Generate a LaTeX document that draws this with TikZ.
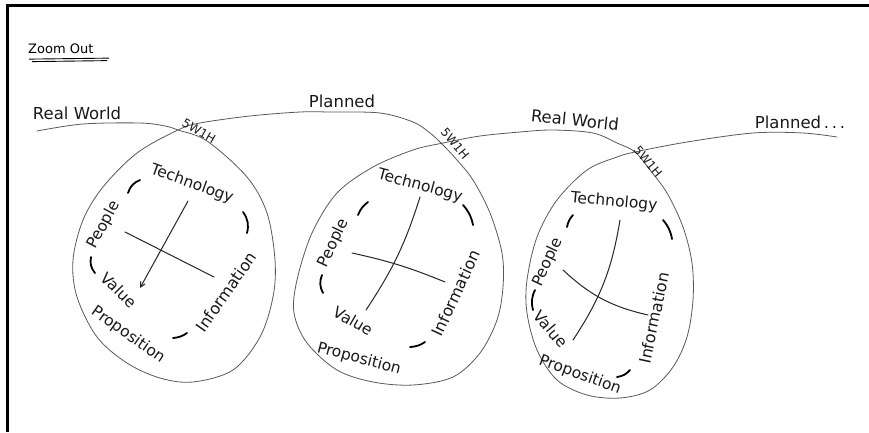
\documentclass[tikz,border=0pt]{standalone}
\usepackage{fontspec}
\setmainfont{DejaVu Sans}
\usetikzlibrary{arrows.meta}
\begin{document}
\begin{tikzpicture}[x=1pt,y=-1pt,
  wave/.style={draw=black!65, line width=0.8pt, line cap=round},
  crossline/.style={draw=black!85, line width=1pt, line cap=round},
  dashmark/.style={draw=black, line width=1.8pt, line cap=round},
  lbl/.style={font=\fontsize{15.5}{15.5}\selectfont, inner sep=0pt, text=black!90},
  toplbl/.style={font=\fontsize{16.5}{16.5}\selectfont, inner sep=0pt, text=black!90},
  small/.style={font=\fontsize{12}{12}\selectfont, inner sep=0pt, text=black!90},
  frame/.style={draw=black, line width=2.5pt}
]
\useasboundingbox (0,0) rectangle (869,432);
% frame
\draw[frame] (7.5,432) -- (7.5,5.5) -- (869,5.5);

% title
\node[font=\fontsize{13}{13}\selectfont, inner sep=0pt, anchor=west] (title) at (28,49) {Zoom Out};
\draw[black, line width=0.9pt] (title.south west)++(1,5) coordinate (u1) -- ++(80,-1) coordinate (u2);
\draw[black, line width=0.9pt] (u1)++(3,2.5) -- ++(75,-1);

% wave with loops
\draw[wave] plot[smooth, tension=0.55] coordinates {
(37,131) (83,124) (140,123) (165,126) (178,130) (207,141) (247,177) (267,213) (275,260) (273,297) (260,337) (233,370) (193,382) (160,378) (127,363) (97,337) (77,297) (73,260) (83,220) (103,187) (137,153) (178,130) (200,123) (250,116) (300,112) (330,112) (380,113) (413,122) (430,133) (443,145) (457,160) (473,180) (490,213) (502,253) (503,287) (497,320) (480,353) (453,377) (413,385) (373,382) (337,370) (307,343) (294,313) (297,280) (312,233) (337,193) (373,167) (413,150) (443,143) (480,136) (520,132) (553,130) (593,133) (617,143) (635,152) (650,170) (667,193) (683,227) (692,263) (693,300) (687,337) (673,367) (650,390) (620,398) (587,395) (557,380) (537,350) (527,313) (527,280) (537,237) (557,200) (587,170) (617,157) (635,152) (687,142) (753,133) (803,133) (837,137)};

% top labels
\node[toplbl] (rw1) at (77,113) {Real World};
\node[toplbl] (pl1) at (342,101) {Planned};
\node[toplbl, rotate=-6] (rw2) at (575,120) {Real World};
\node[toplbl] (pl2) at (800,122) {Planned\,.\,.\,.};
\node[small, rotate=-30] (h1) at (199,131) {5W1H};
\node[small, rotate=-50] (h2) at (455,144) {5W1H};
\node[small, rotate=-50] (h3) at (648,162) {5W1H};

% ---- egg 1 ----
\node[lbl, rotate=-20] (t1) at (192,184) {Technology};
\node[lbl, rotate=62] (p1) at (104,225) {People};
\node[lbl, rotate=-45] (v1) at (119,290) {Value};
\node[lbl, rotate=-35] (pr1) at (128,335) {Proposition};
\node[lbl, rotate=55, font=\fontsize{16}{16}\selectfont] (i1) at (226,292) {Information};
\coordinate (a1s) at (188,201); \coordinate (a1e) at (140,288);
\coordinate (b1s) at (125,232); \coordinate (b1e) at (214,277);
\draw[crossline, -{Straight Barb[length=5pt,width=5pt]}] (a1s) -- (a1e);
\draw[crossline] (b1s) -- (b1e);
\draw[dashmark] (128,193) to[bend left=25] (140,180);
\draw[dashmark] (243,212) to[bend left=25] (247,233);
\draw[dashmark] (91,257) to[bend right=25] (95,273);
\draw[dashmark] (173,338) to[bend right=15] (187,333);

% ---- egg 2 ----
\node[lbl, rotate=-15] (t2) at (420,186) {Technology};
\node[lbl, rotate=65] (p2) at (334,243) {People};
\node[lbl, rotate=-30] (v2) at (353,321) {Value};
\node[lbl, rotate=-15] (pr2) at (359,359) {Proposition};
\node[lbl, rotate=65, font=\fontsize{16}{16}\selectfont] (i2) at (456,293) {Information};
\coordinate (a2s) at (420,197); \coordinate (a2e) at (366,310);
\coordinate (b2s) at (352,253); \coordinate (b2e) at (445,282);
\draw[crossline] (a2s) to[bend left=8] (a2e);
\draw[crossline] (b2s) to[bend left=5] (b2e);
\draw[dashmark] (358,215) to[bend left=15] (368,202);
\draw[dashmark] (463,205) to[bend left=15] (473,225);
\draw[dashmark] (322,275) to[bend right=25] (323,293);
\draw[dashmark] (410,347) to[bend right=15] (425,342);

% ---- egg 3 ----
\node[lbl, rotate=-5] (t3) at (614,202) {Technology};
\node[lbl, rotate=65] (p3) at (548,262) {People};
\node[lbl, rotate=-50] (v3) at (551,329) {Value};
\node[lbl, rotate=-20] (pr3) at (580,375) {Proposition};
\node[lbl, rotate=78, font=\fontsize{16}{16}\selectfont] (i3) at (654,318) {Information};
\coordinate (a3s) at (620,220); \coordinate (a3e) at (573,340);
\coordinate (b3s) at (563,270); \coordinate (b3e) at (648,315);
\draw[crossline] (a3s) to[bend left=12] (a3e);
\draw[crossline] (b3s) to[bend right=15] (b3e);
\draw[dashmark] (567,227) to[bend left=15] (573,215);
\draw[dashmark] (663,220) to[bend left=15] (672,239);
\draw[dashmark] (535,290) to[bend right=20] (533,310);
\draw[dashmark] (617,377) to[bend right=20] (630,370);
\end{tikzpicture}
\end{document}
